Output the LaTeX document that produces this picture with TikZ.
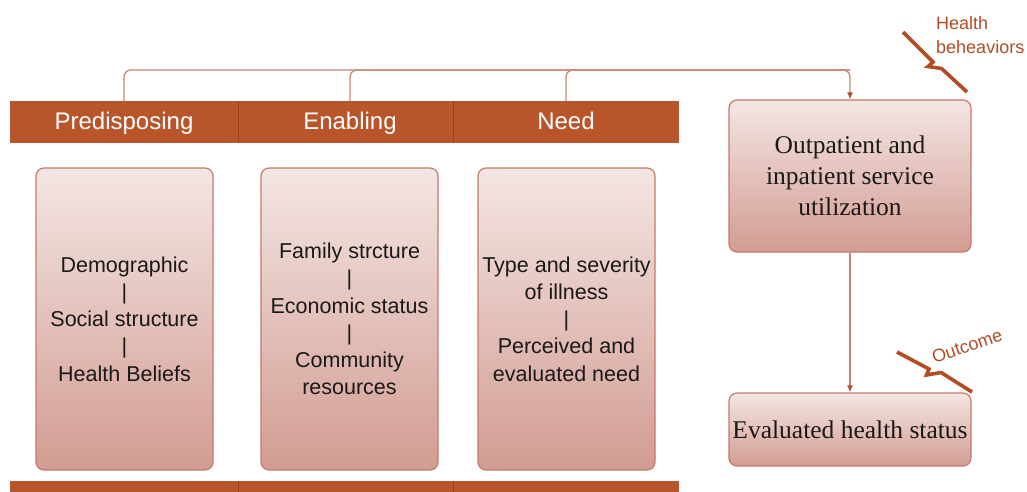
\documentclass[tikz,border=0pt]{standalone}
\usepackage{fontspec}
\setmainfont{Liberation Sans}
\newfontfamily\tnrfont{Liberation Serif}
\usetikzlibrary{arrows.meta,calc}
\definecolor{barfill}{RGB}{185,85,43}
\definecolor{barsep}{RGB}{150,62,30}
\definecolor{boxtop}{RGB}{244,230,228}
\definecolor{boxbot}{RGB}{210,156,145}
\definecolor{boxline}{RGB}{196,122,104}
\definecolor{connc}{RGB}{200,134,114}
\definecolor{tipc}{RGB}{170,80,45}
\definecolor{notec}{RGB}{178,76,36}
\definecolor{inkc}{RGB}{25,25,25}
\tikzset{
  headcell/.style={fill=barfill, draw=none, minimum height=42pt, inner sep=0pt,
    text=white, text height=19pt, text depth=4pt,
    font=\fontsize{24}{28}\selectfont},
  panel/.style={rounded corners=8pt, draw=boxline, line width=1.2pt,
    top color=boxtop, bottom color=boxbot, inner sep=0pt, align=center,
    text=inkc},
  sanspanel/.style={panel, font=\fontsize{21.5}{27.2}\selectfont},
  serifpanel/.style={panel, font=\tnrfont\fontsize{25.5}{31}\selectfont},
  sepline/.style={draw=barsep, line width=0.8pt},
  conn/.style={draw=connc, line width=1.3pt, rounded corners=7pt},
  tipped/.style={-{Latex[length=7pt,width=6pt,color=tipc]}},
  zig/.style={draw=notec, line width=3.6pt, line join=miter},
  note/.style={text=notec, inner sep=0pt, font=\fontsize{18}{23}\selectfont}
}
\begin{document}
\begin{tikzpicture}[x=1pt,y=-1pt]
\useasboundingbox (0,0) rectangle (1027,491);
\clip (0,0) rectangle (1027,491);

% header bar
\node[headcell, minimum width=228pt] (hpre)  at (124,122)   {Predisposing};
\node[headcell, minimum width=215pt] (henb)  at (345.5,122) {\hspace*{9pt}Enabling};
\node[headcell, minimum width=226pt] (hneed) at (566,122)   {Need};
\draw[sepline] (hpre.north east) -- (hpre.south east);
\draw[sepline] (henb.north east) -- (henb.south east);

% footer bar
\node[headcell, minimum width=228pt] (fpre)  at (124,502)   {};
\node[headcell, minimum width=215pt] (fenb)  at (345.5,502) {};
\node[headcell, minimum width=226pt] (fneed) at (566,502)   {};
\draw[sepline] (fpre.north east) -- (fpre.south east);
\draw[sepline] (fenb.north east) -- (fenb.south east);

% factor panels
\node[sanspanel, minimum width=177pt, minimum height=302pt] (bpre) at (124.5,319)
  {Demographic\\|\\Social structure\\|\\Health Beliefs};
\node[sanspanel, minimum width=177pt, minimum height=302pt] (benb) at (349.5,319)
  {Family strcture\\|\\Economic status\\|\\Community\\resources};
\node[sanspanel, minimum width=177pt, minimum height=302pt] (bneed) at (566.5,319)
  {Type and severity\\of illness\\|\\Perceived and\\evaluated need};

% outcome panels
\node[serifpanel, minimum width=242pt, minimum height=152pt] (outp) at (850,176)
  {Outpatient and\\inpatient service\\utilization};
\node[serifpanel, minimum width=242pt, minimum height=73pt] (evh) at (850,429.5)
  {Evaluated health status};

% connectors
\coordinate (bus) at (850,70);
\draw[conn, tipped] (hpre.north) |- (bus) -- (outp.north);
\draw[conn] ([xshift=4.5pt]henb.north) |- (bus);
\draw[conn] (hneed.north) |- (bus);
\draw[conn, tipped] (outp.south) -- (evh.north);

% lightning marks and their labels
\draw[zig] (903,32) -- (933,62) -- (928,66.5) -- (941.5,68.5) -- (967,92);
\node[note, anchor=base west] (hb1) at (936,29) {Health};
\node[note, anchor=base west] (hb2) at (936,53) {beheaviors};

\draw[zig] (897,352) -- (929,369) -- (926.5,375) -- (941,372.5) -- (972,392);
\node[note, rotate=19] (oc) at (967,346) {Outcome};
\end{tikzpicture}
\end{document}
